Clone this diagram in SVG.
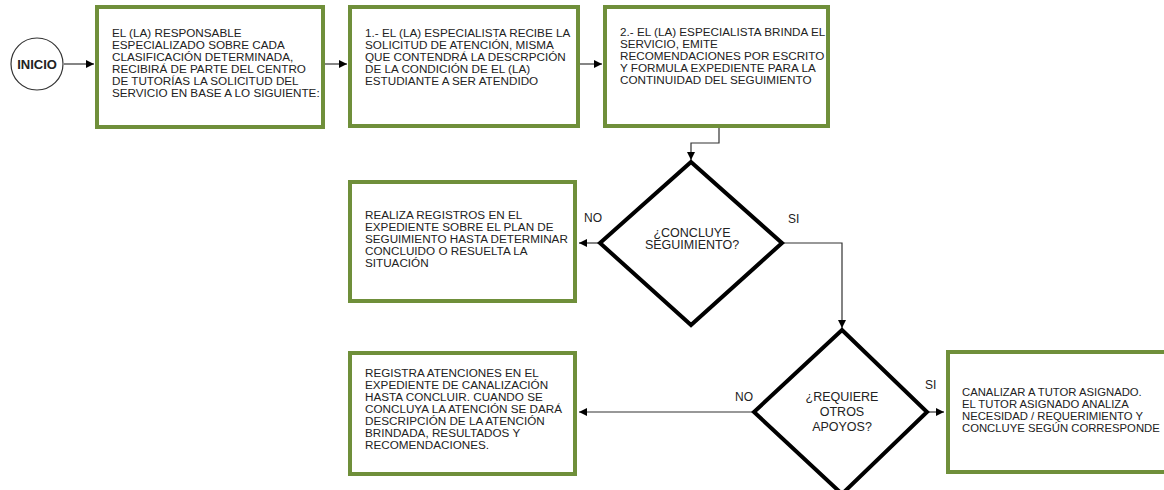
<svg xmlns="http://www.w3.org/2000/svg" width="1164" height="490" viewBox="0 0 1164 490">
<defs>
<style>
.box{fill:#fff;stroke:#6f8f3a;stroke-width:4}
.dia{fill:#fff;stroke:#000;stroke-width:4;stroke-linejoin:miter}
.t{font-family:"Liberation Sans",Arial,sans-serif;font-size:11.7px;fill:#222}
.t6{font-family:"Liberation Sans",Arial,sans-serif;font-size:11.3px;fill:#222}
.d{font-family:"Liberation Sans",Arial,sans-serif;font-size:12.5px;fill:#222;text-anchor:middle}
.lbl{font-family:"Liberation Sans",Arial,sans-serif;font-size:12px;fill:#222}
.c{fill:none;stroke:#333;stroke-width:1.2}
</style>
<marker id="ah" viewBox="0 0 10 10" refX="10" refY="5" markerWidth="8" markerHeight="8" markerUnits="userSpaceOnUse" orient="auto"><path d="M0,0 L10,5 L0,10 z" fill="#000"/></marker>
</defs>
<rect width="1164" height="490" fill="#fff"/>
<g id="connectors">
<line class="c" x1="64" y1="64" x2="94" y2="64" marker-end="url(#ah)"/>
<line class="c" x1="325" y1="64" x2="347" y2="64" marker-end="url(#ah)"/>
<line class="c" x1="580" y1="64" x2="602" y2="64" marker-end="url(#ah)"/>
<polyline class="c" points="719,128 719,143 691,143 691,160" marker-end="url(#ah)"/>
<line class="c" x1="600" y1="243" x2="579" y2="243" marker-end="url(#ah)"/>
<polyline class="c" points="782,243 842,243 842,328" marker-end="url(#ah)"/>
<line class="c" x1="754" y1="412" x2="579" y2="412" marker-end="url(#ah)"/>
<line class="c" x1="927" y1="412" x2="944" y2="412" marker-end="url(#ah)"/>
<text class="lbl" x="584" y="222">NO</text>
<text class="lbl" x="788" y="223">SI</text>
<text class="lbl" x="735" y="401">NO</text>
<text class="lbl" x="925" y="389">SI</text>
</g>
<g id="inicio">
<circle cx="37" cy="64" r="26" fill="#fff" stroke="#333" stroke-width="1.2"/>
<text x="37" y="68.5" style="font-family:'Liberation Sans',Arial,sans-serif;font-size:13px;font-weight:bold;fill:#222" text-anchor="middle">INICIO</text>
</g>
<g id="box1">
<rect class="box" x="97" y="7" width="226" height="120"/>
<text class="t" x="112" y="37">EL (LA) RESPONSABLE</text>
<text class="t" x="112" y="49">ESPECIALIZADO SOBRE CADA</text>
<text class="t" x="112" y="61">CLASIFICACIÓN  DETERMINADA,</text>
<text class="t" x="112" y="73">RECIBIRÁ DE PARTE DEL CENTRO</text>
<text class="t" x="112" y="85">DE TUTORÍAS  LA SOLICITUD  DEL</text>
<text class="t" x="112" y="97">SERVICIO EN BASE A LO SIGUIENTE:</text>
</g>
<g id="box2">
<rect class="box" x="350" y="7" width="228" height="119"/>
<text class="t" x="365" y="37">1.- EL (LA) ESPECIALISTA RECIBE LA</text>
<text class="t" x="365" y="49">SOLICITUD  DE ATENCIÓN,  MISMA</text>
<text class="t" x="365" y="61">QUE CONTENDRÁ  LA DESCRPCIÓN</text>
<text class="t" x="365" y="73">DE LA CONDICIÓN  DE EL (LA)</text>
<text class="t" x="365" y="85">ESTUDIANTE  A SER ATENDIDO</text>
</g>
<g id="box3">
<rect class="box" x="605" y="7" width="223" height="119"/>
<text class="t" x="620" y="36">2.- EL (LA) ESPECIALISTA BRINDA EL</text>
<text class="t" x="620" y="48">SERVICIO, EMITE</text>
<text class="t" x="620" y="60">RECOMENDACIONES POR ESCRITO</text>
<text class="t" x="620" y="72">Y FORMULA EXPEDIENTE PARA LA</text>
<text class="t" x="620" y="84">CONTINUIDAD DEL SEGUIMIENTO</text>
</g>
<g id="decision1">
<polygon class="dia" points="691,162 782,243 691,325 600,243"/>
<text class="d" x="692" y="237">¿CONCLUYE</text>
<text class="d" x="692" y="249">SEGUIMIENTO?</text>
</g>
<g id="box4">
<rect class="box" x="350" y="182" width="225" height="119"/>
<text class="t" x="365" y="219">REALIZA REGISTROS EN EL</text>
<text class="t" x="365" y="231">EXPEDIENTE SOBRE EL PLAN DE</text>
<text class="t" x="365" y="243">SEGUIMIENTO HASTA DETERMINAR</text>
<text class="t" x="365" y="255">CONCLUIDO O RESUELTA LA</text>
<text class="t" x="365" y="267">SITUACIÓN</text>
</g>
<g id="decision2">
<polygon class="dia" points="842,330 927,412 842,494 754,412"/>
<text class="d" x="842" y="401">¿REQUIERE</text>
<text class="d" x="842" y="416">OTROS</text>
<text class="d" x="842" y="431">APOYOS?</text>
</g>
<g id="box5">
<rect class="box" x="350" y="353" width="225" height="121"/>
<text class="t" x="365" y="377">REGISTRA ATENCIONES EN EL</text>
<text class="t" x="365" y="389">EXPEDIENTE DE CANALIZACIÓN</text>
<text class="t" x="365" y="401">HASTA CONCLUIR. CUANDO SE</text>
<text class="t" x="365" y="413">CONCLUYA LA ATENCIÓN SE DARÁ</text>
<text class="t" x="365" y="425">DESCRIPCIÓN DE LA ATENCIÓN</text>
<text class="t" x="365" y="437">BRINDADA, RESULTADOS Y</text>
<text class="t" x="365" y="449">RECOMENDACIONES.</text>
</g>
<g id="box6">
<rect class="box" x="948" y="352" width="230" height="120"/>
<text class="t6" x="962" y="396">CANALIZAR A TUTOR ASIGNADO.</text>
<text class="t6" x="962" y="408">EL TUTOR ASIGNADO ANALIZA</text>
<text class="t6" x="962" y="420">NECESIDAD / REQUERIMIENTO Y</text>
<text class="t6" x="962" y="432">CONCLUYE SEGÚN CORRESPONDE</text>
</g>
</svg>
